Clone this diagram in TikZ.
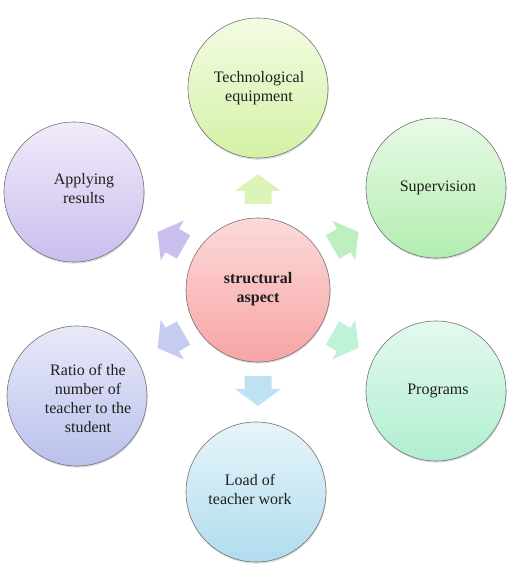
\documentclass[tikz,border=0pt]{standalone}
\usepackage{fontspec}
\setmainfont{Liberation Serif}
\newfontfamily\lblfont{Liberation Serif}
\usetikzlibrary{shadows,calc}
\definecolor{redT}{HTML}{FCDADA}
\definecolor{redB}{HTML}{F8A4A4}
\definecolor{ygT}{HTML}{F3FCE4}
\definecolor{ygB}{HTML}{D4F1A4}
\definecolor{grT}{HTML}{E9FAE7}
\definecolor{grB}{HTML}{B2EDB0}
\definecolor{mtT}{HTML}{E4F9EF}
\definecolor{mtB}{HTML}{B0EED0}
\definecolor{blT}{HTML}{E7F5FA}
\definecolor{blB}{HTML}{B0DCEE}
\definecolor{pwT}{HTML}{E8EAF8}
\definecolor{pwB}{HTML}{BAC0EC}
\definecolor{puT}{HTML}{F1EBF9}
\definecolor{puB}{HTML}{CBBDEF}
\definecolor{aYG}{HTML}{DCF5B6}
\definecolor{aGR}{HTML}{BEEFC0}
\definecolor{aMT}{HTML}{C0F2DA}
\definecolor{aBL}{HTML}{BEE2F2}
\definecolor{aPW}{HTML}{C6CBF0}
\definecolor{aPU}{HTML}{CBBFF0}
\begin{document}
\begin{tikzpicture}[x=1pt,y=1pt,
  bubble/.style={circle, draw=black!55, line width=0.6pt, minimum size=140pt, inner sep=0pt,
    drop shadow={shadow xshift=0.6pt, shadow yshift=-1.6pt, opacity=0.28}},
  lbl/.style={align=center, font=\lblfont\fontsize{16}{19}\selectfont, text=black!88, inner sep=0pt},
  blockarrow/.pic={\path[pic actions] (0,-13.5) -- (13,-13.5) -- (13,-23) -- (30,0) -- (13,23) -- (13,13.5) -- (0,13.5) -- cycle;},
  arr/.style={fill=#1, draw=none, drop shadow={shadow xshift=0.4pt, shadow yshift=-1pt, opacity=0.15}}
]
\useasboundingbox (0,0) rectangle (507,566);

\node[bubble, top color=redT, bottom color=redB, minimum size=144pt] (c) at (258,276) {};
\node[lbl, font=\lblfont\fontsize{16}{19}\selectfont\bfseries] (ct) at (258,277) {structural\\aspect};

\node[bubble, top color=ygT, bottom color=ygB] (top) at (258,478) {};
\node[lbl] (topt) at (259,478) {Technological\\equipment};

\node[bubble, top color=grT, bottom color=grB] (tr) at (436,378) {};
\node[lbl] (trt) at (438,378) {Supervision};

\node[bubble, top color=mtT, bottom color=mtB] (br) at (436,175) {};
\node[lbl] (brt) at (438,175) {Programs};

\node[bubble, top color=blT, bottom color=blB] (bot) at (256,74) {};
\node[lbl] (bott) at (250,77) {Load of\\teacher work};

\node[bubble, top color=pwT, bottom color=pwB] (bl) at (77,170) {};
\node[lbl] (blt) at (88,168) {Ratio of the\\number of\\teacher to the\\student};

\node[bubble, top color=puT, bottom color=puB] (tl) at (74,374) {};
\node[lbl] (tlt) at (84,377) {Applying\\results};

\pic[arr=aYG, rotate=90]  at ($(c)+(90:86)$)  {blockarrow};
\pic[arr=aGR, rotate=30]  at ($(c)+(30:86)$)  {blockarrow};
\pic[arr=aMT, rotate=-30] at ($(c)+(-30:86)$) {blockarrow};
\pic[arr=aBL, rotate=-90] at ($(c)+(-90:86)$) {blockarrow};
\pic[arr=aPW, rotate=-150] at ($(c)+(-150:86)$) {blockarrow};
\pic[arr=aPU, rotate=150] at ($(c)+(150:86)$) {blockarrow};
\end{tikzpicture}
\end{document}
